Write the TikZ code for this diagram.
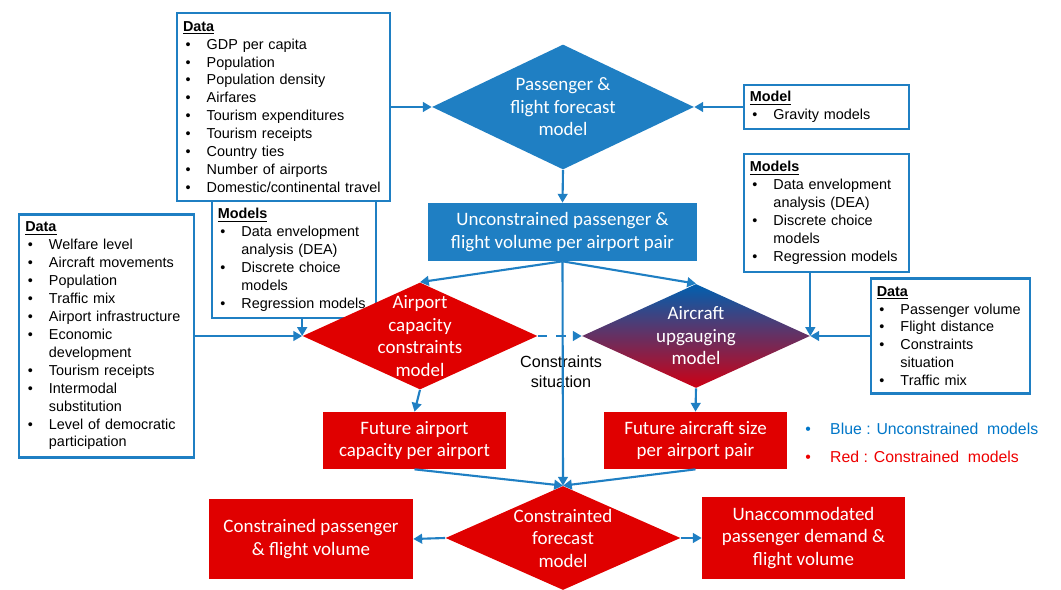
\documentclass[tikz,border=0pt]{standalone}
\usepackage{fontspec}
\setmainfont{Liberation Sans}
\newfontfamily\carlito{Carlito}
\usetikzlibrary{positioning}
\usetikzlibrary{shapes.geometric}
\usetikzlibrary{arrows.meta}
\definecolor{boxblue}{RGB}{31,127,195}
\definecolor{boxred}{RGB}{224,0,0}
\definecolor{aublue}{RGB}{0,96,176}
\definecolor{aured}{RGB}{205,0,20}
\definecolor{keyblue}{RGB}{0,118,200}
\definecolor{keyred}{RGB}{238,0,0}
\newcommand{\itm}[1]{\par\noindent\hangindent=13.5pt\hangafter=1\makebox[13.5pt][l]{\hspace{1.5pt}\textbullet}#1\par}
\newcommand{\boxhead}[1]{\noindent\underline{\textbf{#1}}}

\begin{document}
\begin{tikzpicture}[x=0.02cm,y=-0.02cm,
  listbox/.style={draw=boxblue,line width=1.2pt,fill=white,rectangle,align=left,inner xsep=3.5pt,inner ysep=3pt,font=\fontsize{8.2}{10.2}\selectfont},
  bluebox/.style={rectangle,fill=boxblue,text=white,align=center,font=\carlito\fontsize{10.8}{12.8}\selectfont},
  redbox/.style={bluebox,fill=boxred},
  dia/.style={diamond,inner sep=0pt},
  wtext/.style={text=white,align=center,font=\carlito\fontsize{10.8}{12.8}\selectfont},
  arr/.style={draw=boxblue,line width=1.2pt,-{Triangle[length=5pt,width=5.5pt]}}]
\useasboundingbox (0,0) rectangle (1061,590);

% input boxes
\node[listbox,text width=3.05cm,minimum height=2.34cm](2) at (294,259.5){\boxhead{Models}
\itm{Data envelopment\newline analysis (DEA)}
\itm{Discrete choice\newline models}
\itm{Regression models}};
\node[listbox,text width=4.02cm,minimum height=3.76cm](1) at (283.5,107){\boxhead{Data}
\itm{GDP per capita}
\itm{Population}
\itm{Population density}
\itm{Airfares}
\itm{Tourism expenditures}
\itm{Tourism receipts}
\itm{Country ties}
\itm{Number of airports}
\itm{Domestic/continental travel}};
\node[listbox,text width=3.25cm,minimum height=4.86cm](3) at (106.5,336){\boxhead{Data}
\itm{Welfare level}
\itm{Aircraft movements}
\itm{Population}
\itm{Traffic mix}
\itm{Airport infrastructure}
\itm{Economic\newline development}
\itm{Tourism receipts}
\itm{Intermodal\newline substitution}
\itm{Level of democratic\newline participation}};
\node[listbox,text width=3.07cm,minimum height=0.88cm](4) at (826.5,107){\boxhead{Model}
\itm{Gravity models}};
\node[listbox,text width=3.07cm,minimum height=2.36cm](5)[below=0.45cm of 4]{\boxhead{Models}
\itm{Data envelopment\newline analysis (DEA)}
\itm{Discrete choice\newline models}
\itm{Regression models}};
\node[listbox,text width=2.95cm,minimum height=2.3cm](6) at (950.5,336){\boxhead{Data}
\itm{Passenger volume}
\itm{Flight distance}
\itm{Constraints\newline situation}
\itm{Traffic mix}};

% models and results
\node[dia,fill=boxblue,minimum width=5.24cm,minimum height=2.5cm,label={[wtext]center:Passenger \&\\flight forecast\\model}](7) at (563,107){};
\node[bluebox,minimum width=5.38cm,minimum height=1.16cm](8) at (562.5,232){Unconstrained passenger \&\\flight volume per airport pair};
\node[dia,fill=boxred,minimum width=4.7cm,minimum height=2.14cm,label={[wtext]center:Airport\\capacity\\constraints\\model}](9) at (420,336){};
\node[dia,top color=aublue,bottom color=aured,minimum width=4.56cm,minimum height=2.08cm,label={[wtext]center:Aircraft\\upgauging\\model}](10) at (696,336){};
\node[align=center,font=\fontsize{9.2}{11.3}\selectfont](11) at (561,372){Constraints\\situation};
\node[redbox,minimum width=3.66cm,minimum height=1.14cm](12) at (414.5,440.5){Future airport\\capacity per airport};
\node[redbox,minimum width=3.66cm,minimum height=1.14cm](13) at (695.5,440.5){Future aircraft size\\per airport pair};
\node[dia,fill=boxred,minimum width=4.7cm,minimum height=2.08cm,label={[wtext]center:Constrainted\\forecast\\model}](14) at (563,538){};
\node[redbox,minimum width=4.08cm,minimum height=1.6cm](15) at (311,539){Constrained passenger\\\& flight volume};
\node[redbox,minimum width=4.06cm,minimum height=1.64cm](16) at (803.5,538){Unaccommodated\\passenger demand \&\\flight volume};
\node[anchor=west,align=left,inner sep=0pt,font=\fontsize{9}{16}\selectfont](17) at (805,443){\textcolor{keyblue}{\textbullet\hspace{11pt}Blue : Unconstrained\ \ models}\\\textcolor{keyred}{\textbullet\hspace{11pt}Red : Constrained\ \ models}};

\draw[arr](1.east)--(7.west);
\draw[arr](4.west)--(7.east);
\draw[arr](7.south)--(8.north);
\draw[arr](8.south)--(9.north);
\draw[arr](8.south)--(10.north);
\draw[arr](8.south)--(14.north);
\draw[arr,dash pattern=on 5.5pt off 5pt](9.east)--(10.west);
\draw[arr](9.west |- 2.south)--(9.west);
\draw[arr](3.east)--(9.west);
\draw[arr](10.east |- 5.south)--(10.east);
\draw[arr](6.west)--(10.east);
\draw[arr](9.south)--(12.north);
\draw[arr](10.south)--(13.north);
\draw[arr](12.south)--(14.north);
\draw[arr](13.south)--(14.north);
\draw[arr](14.west)--(15.east);
\draw[arr](14.east)--(16.west);

\end{tikzpicture}
\end{document}
